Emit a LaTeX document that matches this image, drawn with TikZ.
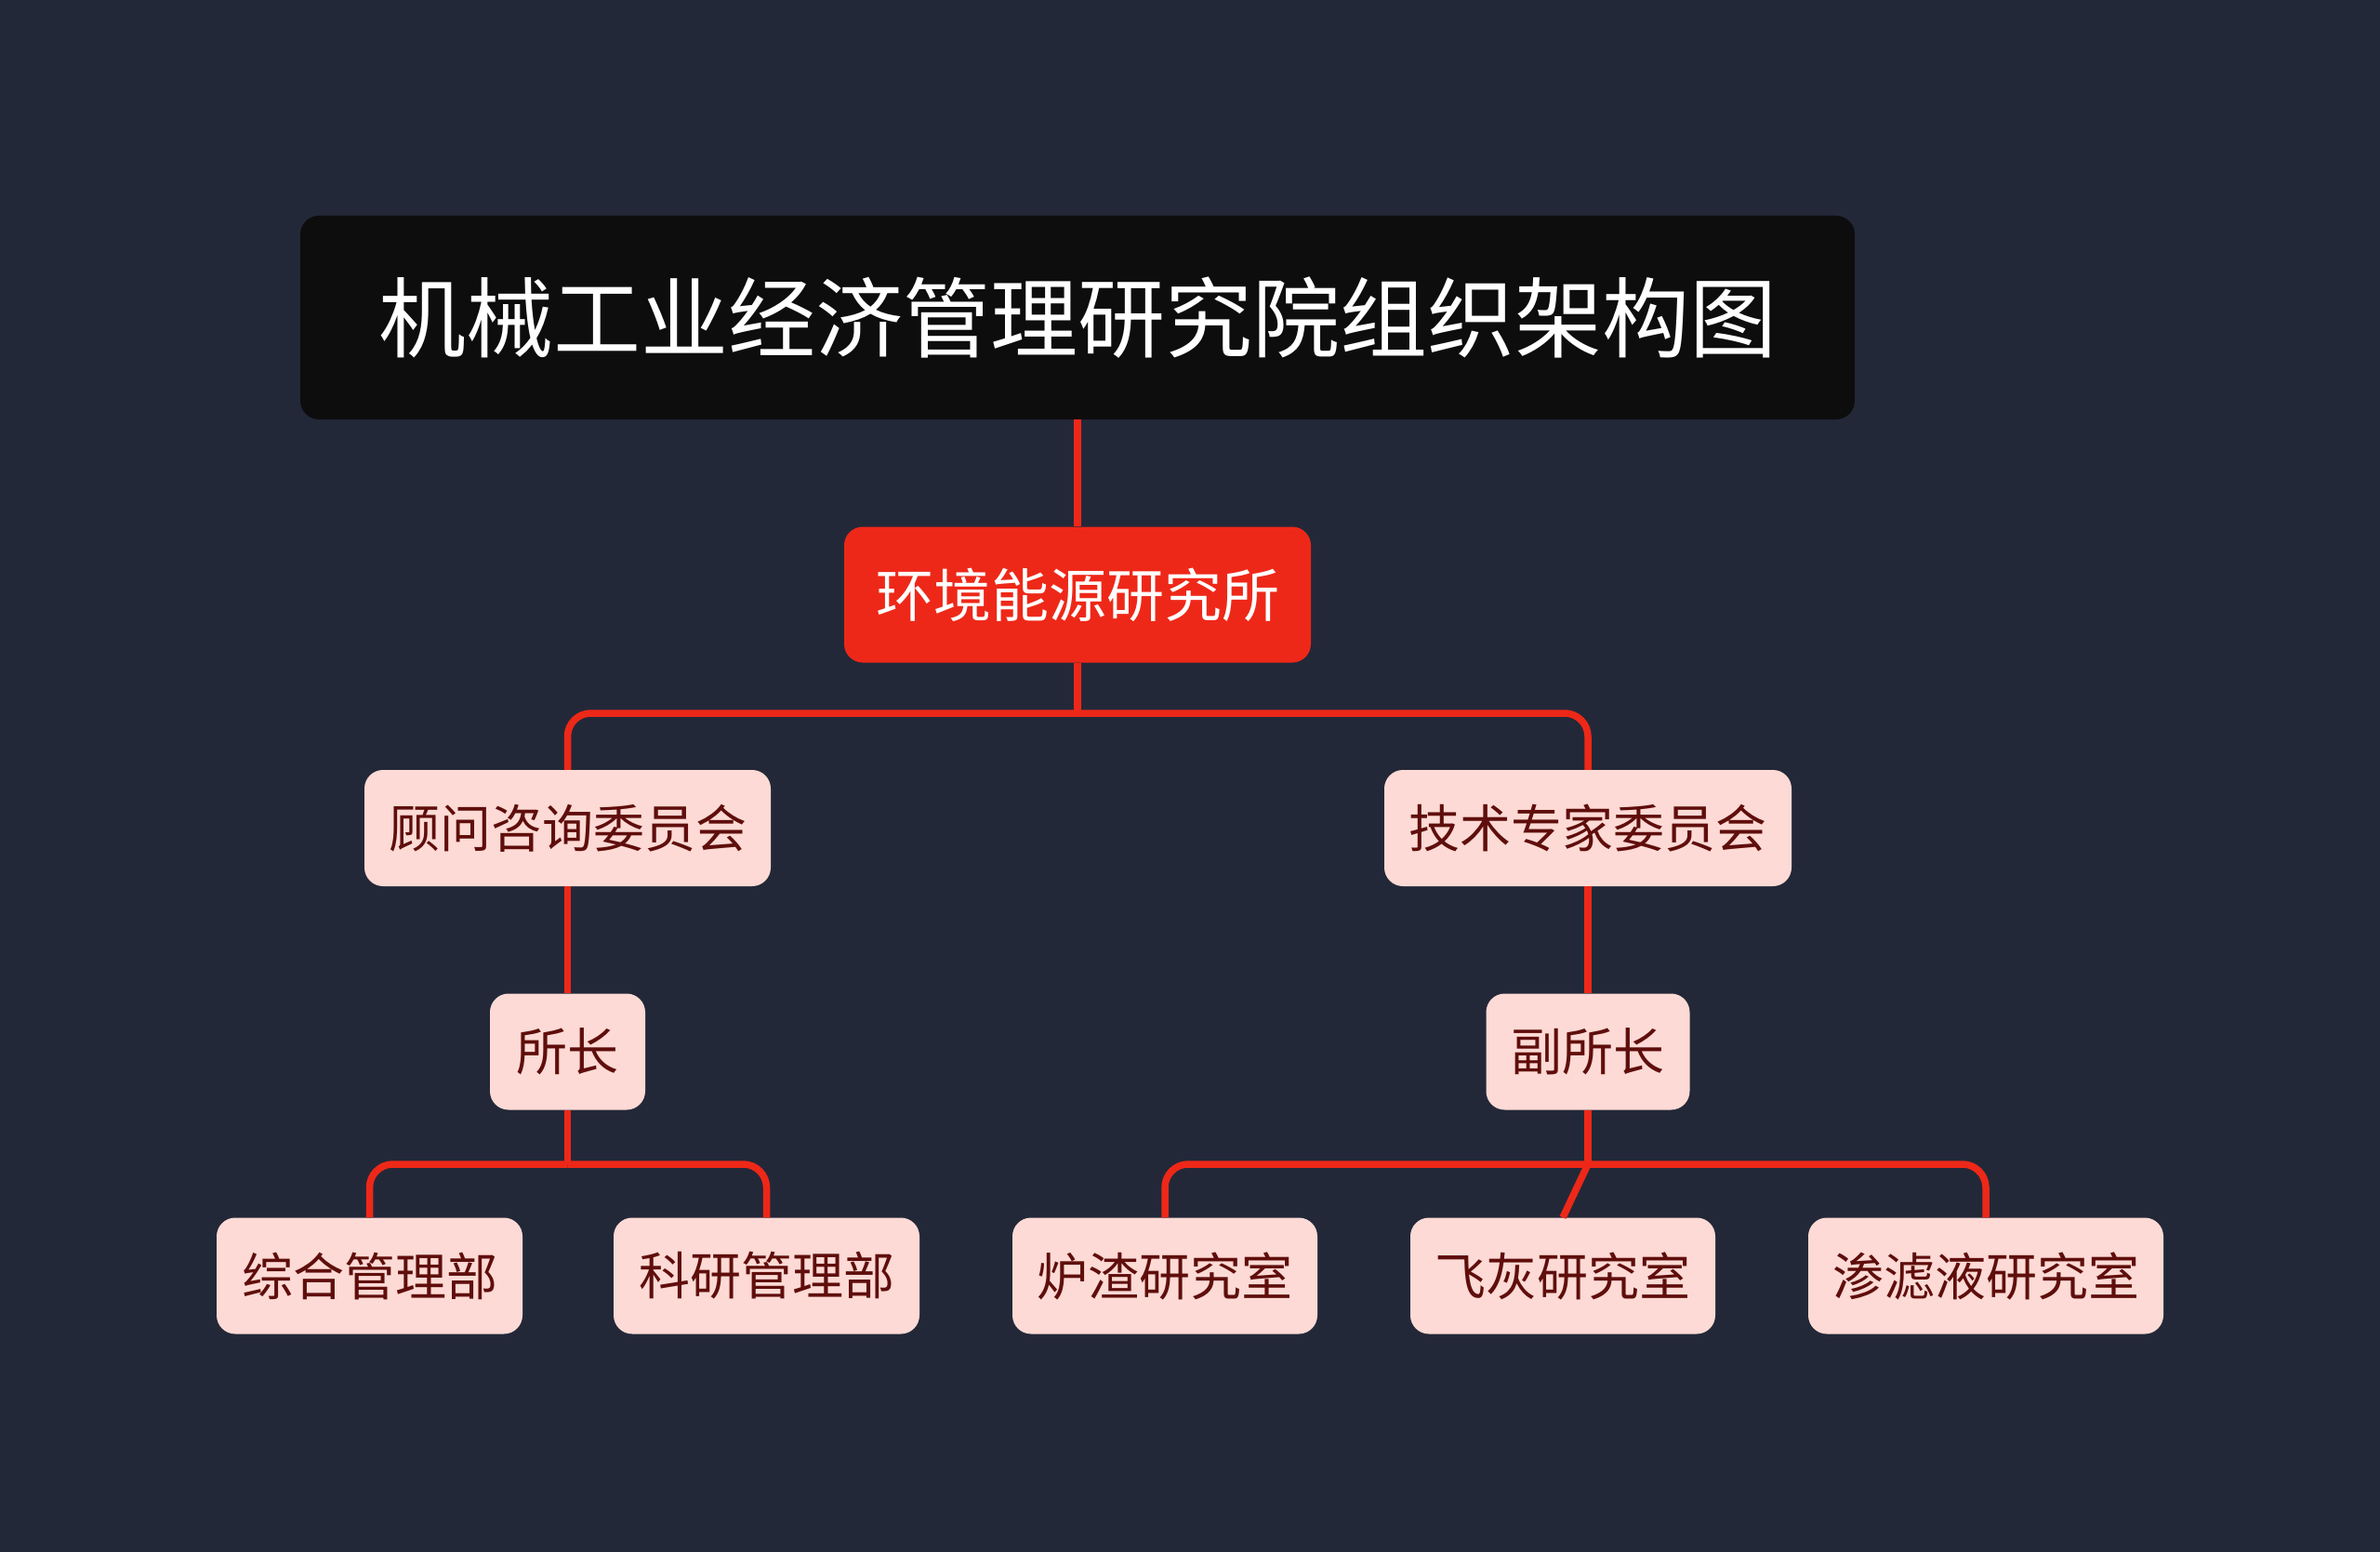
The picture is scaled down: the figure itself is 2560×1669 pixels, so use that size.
\documentclass[tikz,border=0pt]{standalone}
\usepackage{fontspec}
\newfontfamily\cjk{Noto Sans CJK SC}
\definecolor{bgc}{RGB}{35,40,56}
\definecolor{titlebg}{RGB}{13,13,13}
\definecolor{redc}{RGB}{238,40,24}
\definecolor{pinkc}{RGB}{253,218,213}
\definecolor{darktext}{RGB}{95,14,12}
\tikzset{
  titlebox/.style={fill=titlebg, rounded corners=20, inner sep=0, text=white, font=\cjk\fontsize{94}{104}\selectfont},
  rootbox/.style={fill=redc, rounded corners=20, inner sep=0, text=white, font=\cjk\fontsize{62}{70}\selectfont},
  pinkbox/.style={fill=pinkc, rounded corners=20, inner sep=0, text=darktext, font=\cjk\fontsize{55}{62}\selectfont, minimum height=125},
  conn/.style={draw=redc, line width=7.5, rounded corners=25},
}
\begin{document}
\begin{tikzpicture}[x=1pt,y=-1pt]
\fill[bgc] (0,0) rectangle (2560,1669);
\useasboundingbox (0,0) rectangle (2560,1669);
\node[titlebox, minimum width=1672, minimum height=219] (title) at (1159,341.5) {机械工业经济管理研究院组织架构图};
\node[rootbox, minimum width=502, minimum height=146] (root) at (1159,639.5) {环境能源研究所};
\node[pinkbox, minimum width=437] (adv) at (610.5,890.5) {顾问咨询委员会};
\node[pinkbox, minimum width=438] (tech) at (1708,890.5) {技术专家委员会};
\node[pinkbox, minimum width=167] (head) at (610.5,1131) {所长};
\node[pinkbox, minimum width=219] (vice) at (1708,1131) {副所长};
\node[pinkbox, minimum width=329] (zh) at (397.5,1372) {综合管理部};
\node[pinkbox, minimum width=329] (ky) at (824.5,1372) {科研管理部};
\node[pinkbox, minimum width=328] (lz) at (1253,1372) {炉渣研究室};
\node[pinkbox, minimum width=328] (fh) at (1681,1372) {飞灰研究室};
\node[pinkbox, minimum width=382] (sl) at (2136,1372) {渗滤液研究室};
\coordinate (b1) at (1159,767);
\coordinate (b2) at (610.5,1252);
\coordinate (b3) at (1708,1252);
\draw[conn] (title.south) -- (root.north);
\draw[conn] (root.south) -- (b1);
\draw[conn] (b1) -| (adv.north);
\draw[conn] (b1) -| (tech.north);
\draw[conn] (adv.south) -- (head.north);
\draw[conn] (tech.south) -- (vice.north);
\draw[conn] (head.south) -- (b2);
\draw[conn] (b2) -| (zh.north);
\draw[conn] (b2) -| (ky.north);
\draw[conn] (vice.south) -- (b3);
\draw[conn] (b3) -| (lz.north);
\draw[conn] (b3) -| (sl.north);
\draw[conn] (b3) -- (fh.north);
\end{tikzpicture}
\end{document}
